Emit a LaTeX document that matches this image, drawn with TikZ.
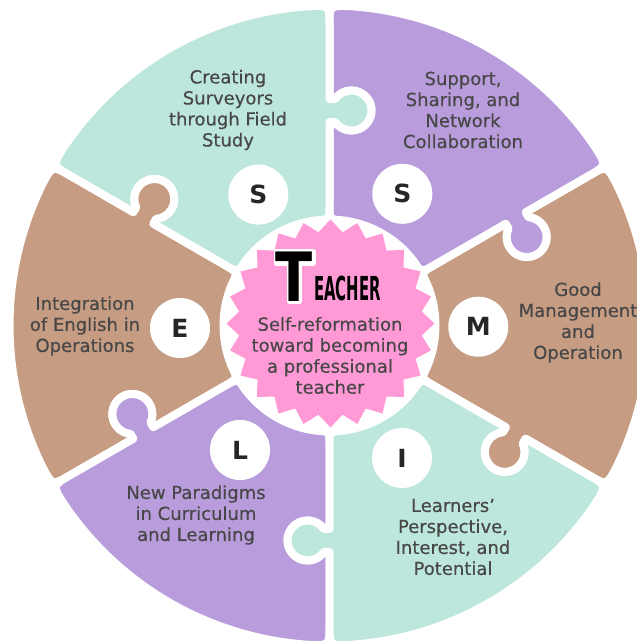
\documentclass[tikz,border=0pt]{standalone}
\usepackage{fontspec}
\setmainfont{DejaVu Sans}
\newfontfamily\pzfont[FakeBold=0.35]{DejaVu Sans}
\usepackage{graphicx}
\definecolor{pzmint}{HTML}{BDE6DC}
\definecolor{pzlilac}{HTML}{B89CDC}
\definecolor{pzbrown}{HTML}{C69C82}
\definecolor{pzpink}{HTML}{FF9AD6}
\definecolor{pzink}{HTML}{474747}
\begin{document}
\begin{tikzpicture}[x=1pt,y=1pt]
\tikzstyle{every node}+=[inner sep=0pt]
\tikzstyle{piece}=[draw=white, line width=8pt, line join=round]
\tikzstyle{pztext}=[align=center, text=pzink, font=\pzfont\fontsize{18}{21}\selectfont]
\tikzstyle{letterdisc}=[circle, fill=white, minimum size=60pt, text=black!85, font=\fontsize{25}{25}\selectfont\bfseries]
\tikzstyle{titlefont}=[text=black, font=\bfseries]
\fill[white] (-329.5,-318.5) rectangle (306.5,325.5);
\useasboundingbox (-329.5,-318.5) rectangle (306.5,325.5);
% six puzzle pieces, tab on the clockwise edge, socket on the other
\foreach \a/\col in {-30/pzbrown,30/pzlilac,90/pzmint,150/pzbrown,210/pzlilac,270/pzmint}
  \filldraw[piece, fill=\col, rotate=\a]
    (0:120) -- (203.5,0) -- (203.5,-5.6) arc[start angle=125, end angle=415, radius=20] -- (226.5,0)
    -- (0:300) .. controls (0:320) .. (3.6:320) arc[start angle=3.6, end angle=56.4, radius=320]
    .. controls (60:320) .. (60:300)
    -- (60:226.5) -- (58.58:226.57) arc[start angle=115, end angle=-175, radius=20] -- (60:203.5)
    -- (60:120) .. controls (60:106) .. (52.5:106) arc[start angle=52.5, end angle=7.5, radius=106]
    .. controls (0:106) .. (0:120) -- cycle;
\fill[pzpink, shift={(1,2)}] plot[domain=0:47, samples=48] (\x*7.5:{98+6*cos(180*\x)}) -- cycle;
\node[letterdisc] (s1) at (-71.2,130.9) {S};
\node[letterdisc] (s2) at (72.8,131.7) {S};
\node[letterdisc] (m) at (148.8,-1.2) {M};
\node[letterdisc] (i) at (72.5,-132.5) {I};
\node[letterdisc] (l) at (-89.5,-124.5) {L};
\node[letterdisc] (e) at (-149.5,-2.5) {E};
\node[pztext] (field) at (-101.5,215.5) {Creating\\Surveyors\\through Field\\Study};
\node[pztext] (network) at (133.5,215.5) {Support,\\Sharing, and\\Network\\Collaboration};
\node[pztext] (manage) at (248.5,3) {Good\\Management\\and\\Operation};
\node[pztext] (learner) at (123.5,-211.5) {Learners’\\Perspective,\\Interest, and\\Potential};
\node[pztext] (paradigm) at (-133.5,-189.5) {New Paradigms\\in Curriculum\\and Learning};
\node[pztext] (english) at (-244.5,-0.5) {Integration\\of English in\\Operations};
% white rim behind the big T
\filldraw[white, line width=5pt, line join=round] (-53.5,73.8) -- (-16.5,73.8) -- (-16.5,62) -- (-30,62)
  -- (-30,24.2) -- (-40,24.2) -- (-40,62) -- (-53.5,62) -- cycle;
\node[titlefont, font=\fontsize{68}{68}\selectfont\bfseries] (bigT) at (-35,49) {\scalebox{0.8}[1]{T}};
\node[titlefont, font=\fontsize{33}{33}\selectfont\bfseries] (eacher) at (18,37.5) {\scalebox{0.45}[1]{EACHER}};
\node[pztext] (motto) at (0.5,-30) {Self-reformation\\toward becoming\\a professional\\teacher};
\end{tikzpicture}
\end{document}
